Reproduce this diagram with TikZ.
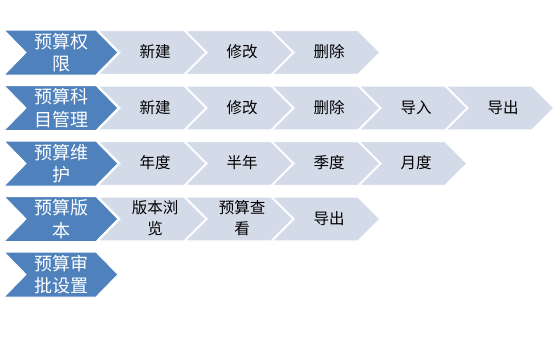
\documentclass[tikz,border=0pt]{standalone}
\usepackage{fontspec}
\newfontfamily\cjk{Noto Sans CJK SC}
\definecolor{headblue}{RGB}{79,129,189}
\definecolor{stepgray}{RGB}{211,218,232}
\newcommand{\chevshape}[5]{% x, top, body width, height, style
  \path[#5] (#1,#2) -- ++(#3,0) -- ++(22,#4/2) -- ++(-22,#4/2) -- ++(-#3,0) -- ++(22,-#4/2) -- cycle;}
\tikzset{
  headshape/.style={fill=headblue,draw=white,line width=1pt,line join=miter},
  grayshape/.style={fill=stepgray,draw=white,line width=1.2pt,line join=miter},
  headtxt/.style={text=white,font=\cjk\fontsize{18}{22.5}\selectfont,align=center,inner sep=0pt},
  steptxt/.style={text=black,font=\cjk\fontsize{15.5}{21}\selectfont,align=center,inner sep=0pt},
}
\begin{document}
\begin{tikzpicture}[x=1pt,y=-1pt]
\useasboundingbox (0,0) rectangle (555,349);
% row tops: 30, 85.5, 141, 196.5, 252
% Row 1
\foreach \k in {0,1,2}{\chevshape{98+87*\k}{30.5}{86}{44}{grayshape}}
\chevshape{4}{30}{92}{45}{headshape}
\node[headtxt] (h1) at (61.5,52.5) {预算权\\限};
\node[steptxt] (s11) at (155,52) {新建};
\node[steptxt] (s12) at (242,52) {修改};
\node[steptxt] (s13) at (329,52) {删除};
% Row 2
\foreach \k in {0,1,2,3,4}{\chevshape{98+87*\k}{86}{86}{44}{grayshape}}
\chevshape{4}{85.5}{92}{45}{headshape}
\node[headtxt] (h2) at (61.5,108) {预算科\\目管理};
\node[steptxt] (s21) at (155,107.5) {新建};
\node[steptxt] (s22) at (242,107.5) {修改};
\node[steptxt] (s23) at (329,107.5) {删除};
\node[steptxt] (s24) at (416,107.5) {导入};
\node[steptxt] (s25) at (503,107.5) {导出};
% Row 3
\foreach \k in {0,1,2,3}{\chevshape{98+87*\k}{141.5}{86}{44}{grayshape}}
\chevshape{4}{141}{92}{45}{headshape}
\node[headtxt] (h3) at (61.5,163.5) {预算维\\护};
\node[steptxt] (s31) at (155,163) {年度};
\node[steptxt] (s32) at (242,163) {半年};
\node[steptxt] (s33) at (329,163) {季度};
\node[steptxt] (s34) at (416,163) {月度};
% Row 4
\foreach \k in {0,1,2}{\chevshape{98+87*\k}{197}{86}{44}{grayshape}}
\chevshape{4}{196.5}{92}{45}{headshape}
\node[headtxt] (h4) at (61.5,219) {预算版\\本};
\node[steptxt] (s41) at (155,218.5) {版本浏\\览};
\node[steptxt] (s42) at (242,218.5) {预算查\\看};
\node[steptxt] (s43) at (329,218.5) {导出};
% Row 5
\chevshape{4}{252}{92}{45}{headshape}
\node[headtxt] (h5) at (61.5,274.5) {预算审\\批设置};
\end{tikzpicture}
\end{document}
